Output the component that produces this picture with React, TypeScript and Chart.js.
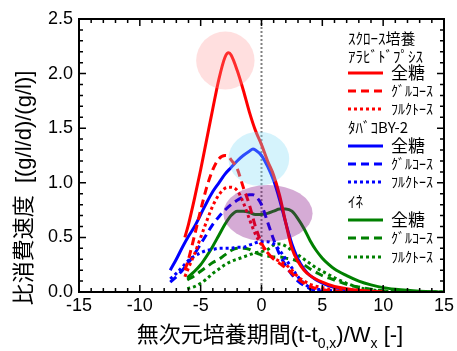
import React, { useEffect, useRef } from "react";
import { Chart, registerables } from "chart.js";

Chart.register(...registerables);

// ---- data ----
const xRed = [-6.3, -6, -5.5, -5, -4.5, -4, -3.5, -3, -2.7, -2.5, -2, -1.5, -1, -0.5, 0, 0.5, 1, 1.5, 2, 2.5, 3, 3.5, 4, 5, 6, 7, 8, 9, 10];
const redTotal = [0.5, 0.62, 0.86, 1.12, 1.4, 1.68, 1.95, 2.15, 2.19, 2.17, 2.03, 1.85, 1.65, 1.48, 1.35, 1.2, 1.07, 0.88, 0.63, 0.4, 0.28, 0.2, 0.15, 0.09, 0.05, 0.03, 0.015, 0.007, 0];
const redGlucose = [0.2, 0.3, 0.52, 0.75, 0.96, 1.12, 1.22, 1.25, 1.24, 1.21, 1.13, 0.96, 0.8, 0.6, 0.45, 0.36, 0.3, 0.26, 0.22, 0.17, 0.12, 0.08, 0.05, 0.02, 0.01, 0, 0, 0, 0];
const redFructose = [0.14, 0.22, 0.35, 0.5, 0.65, 0.79, 0.89, 0.95, 0.96, 0.96, 0.93, 0.82, 0.67, 0.53, 0.43, 0.36, 0.31, 0.28, 0.25, 0.2, 0.14, 0.1, 0.07, 0.04, 0.02, 0.01, 0, 0, 0];

const xBlue = [-7.5, -7, -6.5, -6, -5.5, -5, -4.5, -4, -3.5, -3, -2.5, -2, -1.5, -1, -0.7, -0.5, 0, 0.5, 1, 1.5, 2, 2.5, 3, 3.5, 4, 5, 6, 7, 8, 9];
const blueTotal = [0.2, 0.3, 0.41, 0.51, 0.6, 0.71, 0.82, 0.92, 1.0, 1.08, 1.14, 1.2, 1.25, 1.29, 1.31, 1.3, 1.25, 1.15, 1.02, 0.84, 0.63, 0.44, 0.3, 0.21, 0.15, 0.08, 0.04, 0.02, 0.01, 0];
const blueGlucose = [0.09, 0.14, 0.2, 0.27, 0.35, 0.44, 0.53, 0.62, 0.69, 0.75, 0.8, 0.84, 0.87, 0.89, 0.89, 0.88, 0.8, 0.64, 0.48, 0.34, 0.24, 0.16, 0.1, 0.06, 0.03, 0.01, 0, 0, 0, 0];
const blueFructose = [0.12, 0.17, 0.23, 0.29, 0.33, 0.36, 0.38, 0.39, 0.4, 0.4, 0.4, 0.41, 0.41, 0.43, 0.44, 0.45, 0.46, 0.46, 0.44, 0.38, 0.3, 0.22, 0.14, 0.08, 0.04, 0.02, 0.01, 0, 0, 0];

const xGreen = [-6.1, -5.5, -5, -4.5, -4, -3.5, -3, -2.5, -2, -1.5, -1, -0.5, 0, 0.5, 1, 1.5, 2, 2.5, 3, 3.5, 4, 4.5, 5, 5.5, 6, 7, 8, 9, 10, 11, 12, 13, 14, 15];
const greenTotal = [0.13, 0.19, 0.25, 0.33, 0.42, 0.52, 0.62, 0.7, 0.74, 0.74, 0.73, 0.71, 0.71, 0.72, 0.74, 0.76, 0.76, 0.74, 0.67, 0.58, 0.47, 0.38, 0.31, 0.255, 0.21, 0.15, 0.1, 0.065, 0.04, 0.025, 0.015, 0.008, 0.003, 0];
const greenGlucose = [0.11, 0.15, 0.19, 0.23, 0.27, 0.3, 0.34, 0.38, 0.4, 0.4, 0.39, 0.36, 0.34, 0.33, 0.32, 0.32, 0.31, 0.3, 0.28, 0.25, 0.21, 0.18, 0.15, 0.13, 0.11, 0.07, 0.045, 0.025, 0.01, 0.005, 0, 0, 0, 0];
const greenFructose = [0.03, 0.05, 0.08, 0.12, 0.17, 0.21, 0.25, 0.28, 0.3, 0.32, 0.34, 0.36, 0.37, 0.39, 0.43, 0.44, 0.42, 0.38, 0.34, 0.3, 0.26, 0.22, 0.19, 0.16, 0.13, 0.08, 0.04, 0.02, 0.01, 0, 0, 0, 0, 0];

const xTicks = [-15, -10, -5, 0, 5, 10, 15];
const yTicks = [0, 0.5, 1.0, 1.5, 2.0, 2.5];

// highlight ellipses
const ellipseCx = [-2.97, -0.22, 0.53];
const ellipseCy = [2.12, 1.22, 0.72];
const ellipseRx = [2.4, 2.5, 3.67];
const ellipseRy = [0.266, 0.247, 0.26];
const ellipseColors = ["rgba(255,150,150,0.3)", "rgba(135,220,245,0.35)", "rgba(128,0,128,0.33)"];

const RED = "#ff0000";
const BLUE = "#0000ff";
const GREEN = "#008000";
const SOLID: number[] = [];
const DASH = [8, 5];
const DOT = [3, 3];

const groupNames = ["ｽｸﾛｰｽ培養\nｱﾗﾋﾞﾄﾞﾌﾟｼｽ", "ﾀﾊﾞｺBY-2", "ｲﾈ"];
const sugarNames = ["全糖", "ｸﾞﾙｺｰｽ", "ﾌﾙｸﾄｰｽ"];

const toPts = (xs: number[], ys: number[]) => xs.map((x, i) => ({ x, y: ys[i] }));

function ds(label: string, xs: number[], ys: number[], color: string, dash: number[]) {
  return {
    label,
    data: toPts(xs, ys),
    borderColor: color,
    backgroundColor: color,
    borderWidth: 3,
    borderDash: dash,
    borderCapStyle: "butt" as const,
    pointRadius: 0,
    cubicInterpolationMode: "monotone" as const,
    fill: false,
  };
}

const CJK = "'Noto Sans CJK JP'";

const decorPlugin = {
  id: "decor",
  beforeDatasetsDraw(chart: any) {
    const { ctx, chartArea: a, scales } = chart;
    const x0 = scales.x.getPixelForValue(0);
    ctx.save();
    ctx.strokeStyle = "#808080";
    ctx.lineWidth = 2;
    ctx.setLineDash([2, 2]);
    ctx.beginPath();
    ctx.moveTo(x0, a.top);
    ctx.lineTo(x0, a.bottom);
    ctx.stroke();
    ctx.restore();
  },
  afterDatasetsDraw(chart: any) {
    const { ctx, chartArea: a, scales } = chart;
    const sx = scales.x, sy = scales.y;
    ctx.save();
    for (let i = 0; i < ellipseCx.length; i++) {
      const cx = sx.getPixelForValue(ellipseCx[i]);
      const cy = sy.getPixelForValue(ellipseCy[i]);
      const rx = Math.abs(sx.getPixelForValue(ellipseCx[i] + ellipseRx[i]) - cx);
      const ry = Math.abs(sy.getPixelForValue(ellipseCy[i] + ellipseRy[i]) - cy);
      ctx.fillStyle = ellipseColors[i];
      ctx.beginPath();
      ctx.ellipse(cx, cy, rx, ry, 0, 0, Math.PI * 2);
      ctx.fill();
    }
    ctx.strokeStyle = "#000";
    ctx.lineWidth = 2;
    ctx.setLineDash([]);
    ctx.strokeRect(a.left, a.top, a.right - a.left, a.bottom - a.top);
    ctx.lineWidth = 1.5;
    ctx.beginPath();
    for (let v = -15; v <= 15; v += 1) {
      const p = sx.getPixelForValue(v);
      const len = v % 5 === 0 ? 7 : 4;
      ctx.moveTo(p, a.bottom);
      ctx.lineTo(p, a.bottom - len);
      ctx.moveTo(p, a.top);
      ctx.lineTo(p, a.top + len);
    }
    for (let k = 0; k <= 25; k++) {
      const p = sy.getPixelForValue(k / 10);
      const len = k % 5 === 0 ? 7 : 4;
      ctx.moveTo(a.left, p);
      ctx.lineTo(a.left + len, p);
      ctx.moveTo(a.right, p);
      ctx.lineTo(a.right - len, p);
    }
    ctx.stroke();

    // legend
    const colors = [RED, BLUE, GREEN];
    const dashes = [SOLID, DASH, DOT];
    const headerY = [[38, 56], [127], [201]];
    const rowY = [[73, 91, 109], [146, 164, 182], [220, 238, 257]];
    ctx.fillStyle = "#000";
    ctx.textBaseline = "middle";
    ctx.textAlign = "left";
    for (let g = 0; g < 3; g++) {
      const lines = groupNames[g].split("\n");
      ctx.font = `15px ${CJK}`;
      lines.forEach((t, j) => ctx.fillText(t, 348, headerY[g][j]));
      for (let s = 0; s < 3; s++) {
        const y = rowY[g][s];
        ctx.strokeStyle = colors[g];
        ctx.lineWidth = 3;
        ctx.lineCap = "butt";
        ctx.setLineDash(dashes[s]);
        ctx.beginPath();
        ctx.moveTo(348, y);
        ctx.lineTo(383, y);
        ctx.stroke();
        ctx.setLineDash([]);
        ctx.font = s === 0 ? `17px ${CJK}` : `14px ${CJK}`;
        ctx.fillText(sugarNames[s], 391, y);
      }
    }

    // y axis title
    ctx.save();
    ctx.translate(25, 188);
    ctx.rotate(-Math.PI / 2);
    ctx.textAlign = "center";
    ctx.font = `22px Arial, 'Liberation Sans', ${CJK}`;
    ctx.fillText("比消費速度  [(g/l/d)/(g/l)]", 0, 0);
    ctx.restore();

    // x axis title with subscripts
    const parts = [
      { t: "無次元培養期間(t-t", sub: false },
      { t: "0,x", sub: true },
      { t: ")/W", sub: false },
      { t: "x", sub: true },
      { t: " [-]", sub: false },
    ];
    const mainFont = `22px Arial, 'Liberation Sans', ${CJK}`;
    const subFont = `14px Arial, 'Liberation Sans'`;
    let total = 0;
    for (const p of parts) {
      ctx.font = p.sub ? subFont : mainFont;
      total += ctx.measureText(p.t).width;
    }
    let x = 270 - total / 2;
    ctx.textAlign = "left";
    ctx.textBaseline = "alphabetic";
    for (const p of parts) {
      ctx.font = p.sub ? subFont : mainFont;
      ctx.fillText(p.t, x, p.sub ? 348 : 342);
      x += ctx.measureText(p.t).width;
    }
    ctx.restore();
  },
};

export default function App() {
  const ref = useRef<HTMLCanvasElement | null>(null);
  useEffect(() => {
    if (!ref.current) return;
    const chart = new Chart(ref.current, {
      type: "line",
      data: {
        datasets: [
          ds("Ara total", xRed, redTotal, RED, SOLID),
          ds("Ara glucose", xRed, redGlucose, RED, DASH),
          ds("Ara fructose", xRed, redFructose, RED, DOT),
          ds("BY2 total", xBlue, blueTotal, BLUE, SOLID),
          ds("BY2 glucose", xBlue, blueGlucose, BLUE, DASH),
          ds("BY2 fructose", xBlue, blueFructose, BLUE, DOT),
          ds("Rice total", xGreen, greenTotal, GREEN, SOLID),
          ds("Rice glucose", xGreen, greenGlucose, GREEN, DASH),
          ds("Rice fructose", xGreen, greenFructose, GREEN, DOT),
        ],
      },
      options: {
        responsive: false,
        animation: false,
        layout: { padding: { top: 19, right: 10, left: 0, bottom: 0 } },
        plugins: { legend: { display: false }, tooltip: { enabled: false } },
        scales: {
          x: {
            type: "linear",
            min: -15,
            max: 15,
            afterBuildTicks: (s: any) => { s.ticks = xTicks.map((v) => ({ value: v })); },
            ticks: { color: "#000", font: { size: 18, family: "Arial, 'Liberation Sans'" }, padding: 3, maxRotation: 0, autoSkip: false },
            grid: { display: false, drawTicks: false },
            border: { display: false },
            afterFit: (s: any) => { s.height = 59; },
          },
          y: {
            type: "linear",
            min: 0,
            max: 2.5,
            afterBuildTicks: (s: any) => { s.ticks = yTicks.map((v) => ({ value: v })); },
            ticks: { color: "#000", font: { size: 18, family: "Arial, 'Liberation Sans'" }, padding: 6, callback: (v: any) => Number(v).toFixed(1), autoSkip: false },
            grid: { display: false, drawTicks: false },
            border: { display: false },
            afterFit: (s: any) => { s.width = 79; },
          },
        },
      },
      plugins: [decorPlugin],
    });
    return () => chart.destroy();
  }, []);
  return (
    <div style={{ position: "absolute", left: 0, top: 0, width: 457, height: 351, background: "#fff" }}>
      <canvas ref={ref} width={457} height={351} />
    </div>
  );
}
